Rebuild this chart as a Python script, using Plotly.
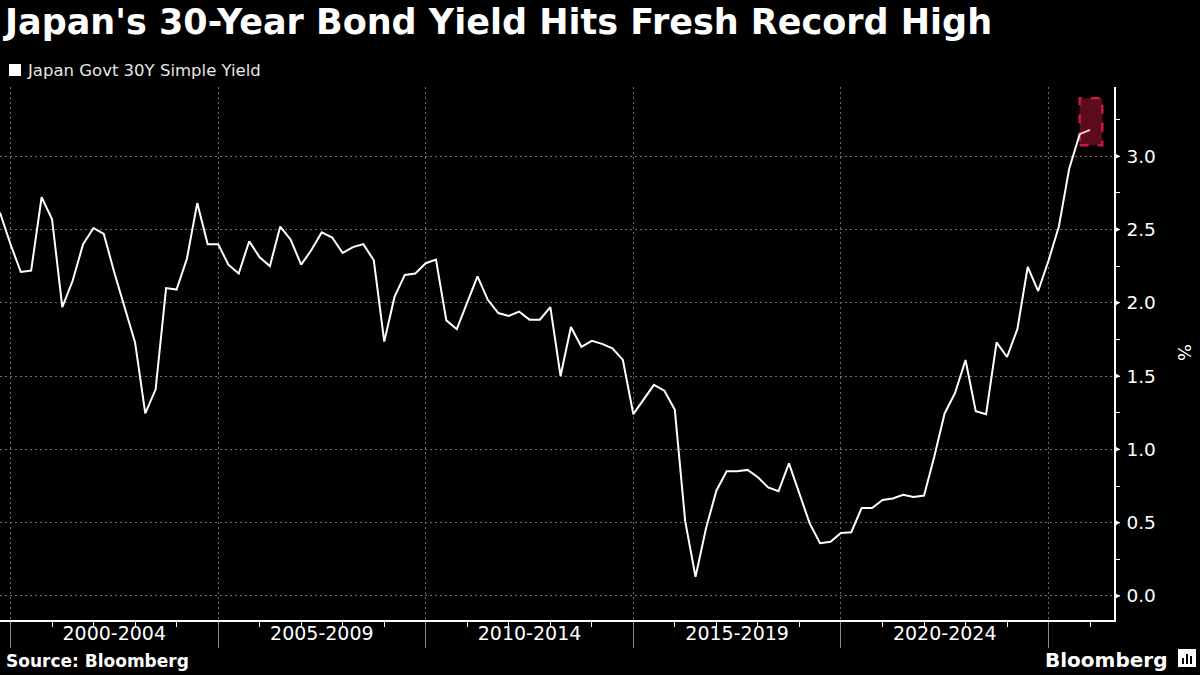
import pandas as pd
import plotly.graph_objects as go

# ---- data (quarterly) ----
dates = pd.date_range("1999-10-01", periods=106, freq="QS")
yields = [
    2.615, 2.40, 2.21, 2.22, 2.72, 2.57, 1.97, 2.15, 2.40, 2.51,
    2.47, 2.21, 1.97, 1.73, 1.245, 1.41, 2.10, 2.09, 2.30, 2.68,
    2.40, 2.40, 2.26, 2.20, 2.42, 2.31, 2.25, 2.52, 2.43, 2.26,
    2.36, 2.48, 2.445, 2.34, 2.38, 2.40, 2.29, 1.735, 2.04, 2.19,
    2.20, 2.27, 2.295, 1.88, 1.82, 2.00, 2.18, 2.02, 1.93, 1.91,
    1.94, 1.885, 1.885, 1.97, 1.50, 1.835, 1.70, 1.74, 1.72, 1.69,
    1.61, 1.24, 1.34, 1.44, 1.40, 1.27, 0.51, 0.13, 0.46, 0.72,
    0.85, 0.85, 0.86, 0.81, 0.74, 0.715, 0.905, 0.70, 0.495, 0.36,
    0.37, 0.43, 0.435, 0.60, 0.60, 0.655, 0.665, 0.69, 0.675, 0.685,
    0.95, 1.245, 1.385, 1.61, 1.26, 1.24, 1.73, 1.63, 1.82, 2.245,
    2.08, 2.29, 2.52, 2.915, 3.15, 3.18,
]
period_starts = ["2000-01-01", "2005-01-01", "2010-01-01", "2015-01-01", "2020-01-01", "2025-01-01"]
period_labels = ["2000-2004", "2005-2009", "2010-2014", "2015-2019", "2020-2024"]
period_mids = ["2002-07-02", "2007-07-02", "2012-07-02", "2017-07-02", "2022-07-02"]
year_ticks = [f"{y}-01-01" for y in range(2000, 2027)]
y_ticks = [0.0, 0.5, 1.0, 1.5, 2.0, 2.5, 3.0]
series_name = "Japan Govt 30Y Simple Yield"
title_text = "Japan's 30-Year Bond Yield Hits Fresh Record High"

x_range = ["1999-10-01", "2026-07-30"]
y_range = [-0.164, 3.472]

FONT = "DejaVu Sans"
W, H = 1200, 675
ML, MR, MT, MB = 0, 86, 87, 55
PW, PH = W - ML - MR, H - MT - MB


def px_x(px):
    return (px - ML) / PW


def px_y(py):
    return (H - MB - py) / PH


fig = go.Figure()

fig.add_trace(go.Scatter(
    x=dates[:-1], y=yields[:-1], mode="lines",
    line=dict(color="white", width=2), showlegend=False, hoverinfo="skip",
))
# latest segment, highlighted
fig.add_trace(go.Scatter(
    x=dates[-2:], y=yields[-2:], mode="lines",
    line=dict(color="#f5c6d0", width=2), showlegend=False, hoverinfo="skip",
))
# invisible trace to carry the period-label axis
fig.add_trace(go.Scatter(
    x=[dates[0]], y=[None], xaxis="x2", yaxis="y", mode="lines",
    showlegend=False, hoverinfo="skip",
))

shapes = []
# highlight box around the latest reading
last_date = dates[-1]
shapes.append(dict(
    type="rect", xref="x", yref="y", layer="below",
    x0=dates[-2], x1=last_date + pd.Timedelta(days=107),
    y0=yields[-1] - 0.105, y1=yields[-1] + 0.215,
    fillcolor="#5a0c1c", line=dict(color="#c8193f", width=2.5, dash="dash"),
))
# triangle markers at the major y ticks
dx = 6 / PW
dy = 3.5 * (y_range[1] - y_range[0]) / PH
for v in y_ticks:
    shapes.append(dict(
        type="path", xref="paper", yref="y",
        path=f"M 1,{v - dy} L {1 + dx},{v} L 1,{v + dy} Z",
        fillcolor="white", line=dict(color="white", width=0),
    ))
# legend square
shapes.append(dict(
    type="rect", xref="paper", yref="paper",
    x0=px_x(9), x1=px_x(21), y0=px_y(76), y1=px_y(64),
    fillcolor="white", line=dict(width=0),
))
# Bloomberg icon
shapes.append(dict(
    type="rect", xref="paper", yref="paper",
    x0=px_x(1178), x1=px_x(1196), y0=px_y(667), y1=px_y(649),
    fillcolor="white", line=dict(width=0),
))
for bx, bh in [(1182, 6), (1186, 10), (1190, 8)]:
    shapes.append(dict(
        type="rect", xref="paper", yref="paper",
        x0=px_x(bx), x1=px_x(bx + 2), y0=px_y(664), y1=px_y(664 - bh),
        fillcolor="black", line=dict(width=0),
    ))

annotations = [
    dict(text=title_text, xref="paper", yref="paper", x=px_x(1), y=px_y(22),
         xanchor="left", yanchor="middle", showarrow=False,
         font=dict(family=FONT, size=35, color="white", weight="bold")),
    dict(text=series_name, xref="paper", yref="paper", x=px_x(25), y=px_y(70),
         xanchor="left", yanchor="middle", showarrow=False,
         font=dict(family=FONT, size=16.5, color="#e6e6e6")),
    dict(text="Source: Bloomberg", xref="paper", yref="paper", x=px_x(4), y=px_y(661),
         xanchor="left", yanchor="middle", showarrow=False,
         font=dict(family=FONT, size=17, color="white", weight="bold")),
    dict(text="Bloomberg", xref="paper", yref="paper", x=px_x(1169), y=px_y(660),
         xanchor="right", yanchor="middle", showarrow=False,
         font=dict(family=FONT, size=20, color="white", weight="bold")),
    dict(text="%", xref="paper", yref="paper", x=px_x(1185), y=px_y(352),
         xanchor="center", yanchor="middle", showarrow=False, textangle=90,
         font=dict(family=FONT, size=18, color="white")),
]

fig.update_layout(
    width=W, height=H,
    paper_bgcolor="black", plot_bgcolor="black",
    margin=dict(l=ML, r=MR, t=MT, b=MB),
    showlegend=False,
    shapes=shapes,
    annotations=annotations,
    xaxis=dict(
        type="date", range=x_range,
        tickmode="array", tickvals=period_starts, showticklabels=False,
        ticks="outside", ticklen=26, tickcolor="#8a8a8a", tickwidth=1,
        showgrid=True, gridcolor="#6e6e6e", gridwidth=1, griddash="2px,3px",
        showline=True, linecolor="white", linewidth=1.5,
        zeroline=False,
        minor=dict(tickmode="array", tickvals=year_ticks, ticks="outside",
                   ticklen=5, tickcolor="white", tickwidth=1, showgrid=False),
    ),
    xaxis2=dict(
        type="date", range=x_range, overlaying="x", anchor="y", side="bottom",
        tickmode="array", tickvals=period_mids, ticktext=period_labels,
        ticks="", showgrid=False, showline=False, zeroline=False,
        tickfont=dict(family=FONT, size=19, color="white"),
    ),
    yaxis=dict(
        side="right", range=y_range,
        tickmode="array", tickvals=y_ticks, ticktext=[f"{v:.1f}" for v in y_ticks],
        ticks="outside", ticklen=7, tickcolor="rgba(0,0,0,0)",
        tickfont=dict(family=FONT, size=18.5, color="white"),
        showgrid=True, gridcolor="#6e6e6e", gridwidth=1, griddash="2px,3px",
        showline=True, linecolor="white", linewidth=1.5,
        zeroline=False,
        minor=dict(dtick=0.25, tick0=0, ticks="outside", ticklen=4,
                   tickcolor="white", tickwidth=1, showgrid=False),
    ),
)

fig.write_html(
    "out.html",
    config={"displayModeBar": False},
    post_script="document.body.style.margin='0';document.body.style.overflow='hidden';",
)
